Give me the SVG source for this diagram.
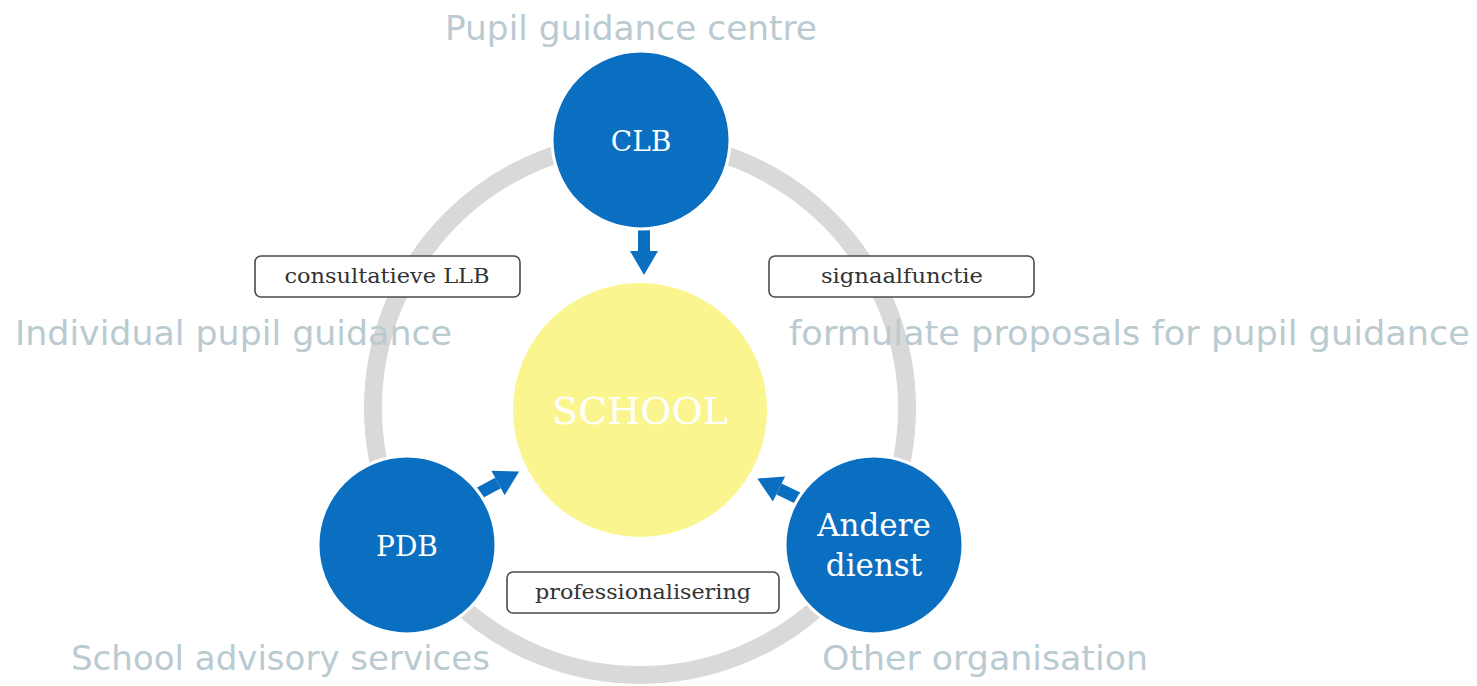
<svg xmlns="http://www.w3.org/2000/svg" width="1477" height="686" viewBox="0 0 1477 686">
<style>
.blue{fill:#0a6fc1;stroke:#ffffff;stroke-width:3}
.ntext{font-family:"DejaVu Serif","Liberation Serif",serif;fill:#ffffff;text-anchor:middle}
.gray{font-family:"DejaVu Sans","Liberation Sans",sans-serif;font-size:34px;fill:#b9cad1}
.lbox{fill:#ffffff;stroke:#4a4a4a;stroke-width:1.6}
.ltext{font-family:"DejaVu Serif","Liberation Serif",serif;font-size:21px;fill:#333333;text-anchor:middle}
.conn{stroke:#0a6fc1;stroke-width:12;fill:none;marker-end:url(#ah)}
</style>
<defs>
<marker id="ah" markerUnits="userSpaceOnUse" markerWidth="28" markerHeight="28" viewBox="0 0 24 28" refX="0" refY="14" orient="auto">
<path d="M0,0 L24,14 L0,28 Z" fill="#0a6fc1"/>
</marker>
</defs>
<rect width="1477" height="686" fill="#ffffff"/>
<g id="ring"><circle cx="640" cy="408" r="267" fill="none" stroke="#d9d9d9" stroke-width="18"/></g>
<g id="gray-labels">
<text class="gray" x="631" y="40" text-anchor="middle" textLength="372" lengthAdjust="spacingAndGlyphs">Pupil guidance centre</text>
<text class="gray" x="15" y="345" textLength="437" lengthAdjust="spacingAndGlyphs">Individual pupil guidance</text>
<text class="gray" x="789" y="345" textLength="681" lengthAdjust="spacingAndGlyphs">formulate proposals for pupil guidance</text>
<text class="gray" x="71" y="670" textLength="419" lengthAdjust="spacingAndGlyphs">School advisory services</text>
<text class="gray" x="822" y="670" textLength="326" lengthAdjust="spacingAndGlyphs">Other organisation</text>
</g>
<g id="school">
<circle cx="640" cy="410" r="127" fill="#faf58f"/>
<text class="ntext" x="640" y="424" font-size="38">SCHOOL</text>
</g>
<g id="connectors">
<line class="conn" x1="644" y1="226" x2="644" y2="251"/>
<line class="conn" x1="472" y1="497" x2="498" y2="483"/>
<line class="conn" x1="806" y1="502" x2="779" y2="489"/>
</g>
<g id="clb">
<circle class="blue" cx="641" cy="140" r="89"/>
<text class="ntext" x="641" y="151" font-size="28">CLB</text>
</g>
<g id="pdb">
<circle class="blue" cx="407" cy="545" r="89"/>
<text class="ntext" x="407" y="556" font-size="28">PDB</text>
</g>
<g id="andere">
<circle class="blue" cx="874" cy="545" r="89"/>
<text class="ntext" x="874" y="536" font-size="31">Andere</text>
<text class="ntext" x="874" y="576" font-size="31">dienst</text>
</g>
<g id="label-consultatieve">
<rect class="lbox" x="255" y="256" width="265" height="41" rx="6"/>
<text class="ltext" x="387" y="283" textLength="205" lengthAdjust="spacingAndGlyphs">consultatieve LLB</text>
</g>
<g id="label-signaal">
<rect class="lbox" x="769" y="256" width="265" height="41" rx="6"/>
<text class="ltext" x="902" y="283" textLength="162" lengthAdjust="spacingAndGlyphs">signaalfunctie</text>
</g>
<g id="label-prof">
<rect class="lbox" x="507" y="572" width="272" height="41" rx="6"/>
<text class="ltext" x="643" y="599" textLength="216" lengthAdjust="spacingAndGlyphs">professionalisering</text>
</g>
</svg>
